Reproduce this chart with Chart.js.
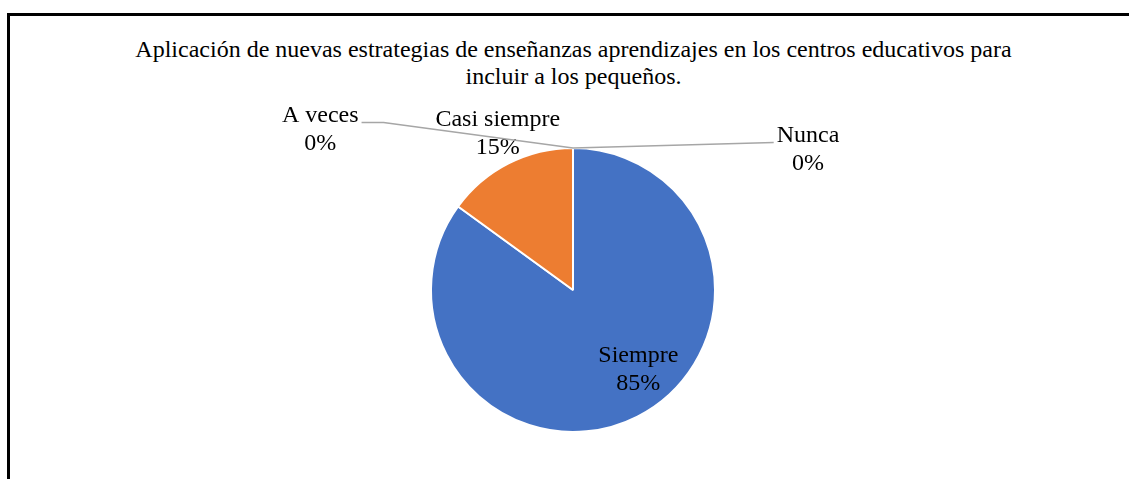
<!DOCTYPE html>
<html>
<head>
<meta charset="utf-8">
<script src="https://cdn.jsdelivr.net/npm/chart.js@4"></script>
<style>
  html, body { margin: 0; padding: 0; background: #fff; }
  #frame {
    position: absolute; left: 7px; top: 13px; width: 1130px; height: 480px;
    border-top: 3px solid #000; border-left: 3px solid #000;
  }
  #title {
    position: absolute; left: 0; top: 36px; width: 1147px; text-align: center;
    font-family: "Times New Roman", "Liberation Serif", Times, serif; font-size: 24px;
    line-height: 27px; color: #000;
  }
  #wrap { position: absolute; left: 0; top: 0; width: 1129px; height: 479px; }
</style>
</head>
<body>
<div id="frame"></div>
<div id="title">Aplicación de nuevas estrategias de enseñanzas aprendizajes en los centros educativos para<br>incluir a los pequeños.</div>
<div id="wrap"><canvas id="chart"></canvas></div>
<script>
const labels = ['Siempre', 'Casi siempre', 'A veces', 'Nunca']
const values = [85, 15, 0, 0]
const colors = ['#4472C4', '#ED7D31', '#A5A5A5', '#FFC000']

// label spots, in pie radii from the centre (dx, dy)
const labelSpots = [
    [0.46, 0.56],
    [-0.53, -1.10],
    [-1.78, -1.13],
    [1.655, -0.99]
]

const total = values.reduce((a, b) => a + b, 0)

const pieLabels = {
    id: 'pieLabels',
    afterDatasetsDraw(chart) {
        const ctx = chart.ctx
        const arcs = chart.getDatasetMeta(0).data
        ctx.save()
        ctx.font = '24px "Times New Roman", "Liberation Serif", Times, serif'
        ctx.textAlign = 'center'
        ctx.textBaseline = 'middle'
        arcs.forEach((arc, i) => {
            const { x, y, outerRadius, startAngle, endAngle } = arc.getProps(['x', 'y', 'outerRadius', 'startAngle', 'endAngle'], true)
            const lx = x + labelSpots[i][0] * outerRadius
            const ly = y + labelSpots[i][1] * outerRadius
            const pct = Math.round(values[i] / total * 100) + '%'
            if (values[i] === 0) {
                // leader line from the slice edge to the label
                const mid = (startAngle + endAngle) / 2
                const ax = x + Math.cos(mid) * outerRadius
                const ay = y + Math.sin(mid) * outerRadius
                const w = ctx.measureText(labels[i]).width
                const side = lx < x ? 1 : -1
                const ex = lx + side * (w / 2 + 3)
                const ey = ly - 7
                ctx.strokeStyle = '#A6A6A6'
                ctx.lineWidth = 1.5
                ctx.beginPath()
                ctx.moveTo(ax, ay)
                if (side === 1) {
                    ctx.lineTo(ex + 22, ey)
                }
                ctx.lineTo(ex, ey)
                ctx.stroke()
            }
            ctx.fillStyle = '#000'
            ctx.fillText(labels[i], lx, ly - 14)
            ctx.fillText(pct, lx, ly + 14)
        })
        ctx.restore()
    }
}

new Chart(document.getElementById('chart'), {
    type: 'pie',
    data: {
        labels: labels,
        datasets: [{
            data: values,
            backgroundColor: colors,
            borderColor: '#fff',
            borderWidth: 2
        }]
    },
    options: {
        responsive: true,
        maintainAspectRatio: false,
        animation: false,
        layout: { padding: { top: 147, bottom: 46, left: 300, right: 283 } },
        plugins: {
            legend: { display: false },
            tooltip: { enabled: false },
            title: { display: false }
        }
    },
    plugins: [pieLabels]
})
</script>
</body>
</html>
